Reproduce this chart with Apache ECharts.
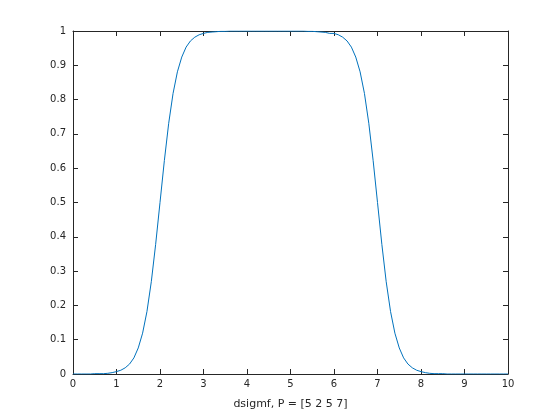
<!DOCTYPE html>
<html>
<head>
<meta charset="utf-8">
<script src="https://cdn.jsdelivr.net/npm/echarts@6/dist/echarts.min.js"></script>
<style>html,body{margin:0;padding:0;background:#fff;}#c{width:560px;height:420px;}</style>
</head>
<body>
<div id="c"></div>
<script>
var xValues = [0,0.1,0.2,0.3,0.4,0.5,0.6,0.7,0.8,0.9,1,1.1,1.2,1.3,1.4,1.5,1.6,1.7,1.8,1.9,2,2.1,2.2,2.3,2.4,2.5,2.6,2.7,2.8,2.9,3,3.1,3.2,3.3,3.4,3.5,3.6,3.7,3.8,3.9,4,4.1,4.2,4.3,4.4,4.5,4.6,4.7,4.8,4.9,5,5.1,5.2,5.3,5.4,5.5,5.6,5.7,5.8,5.9,6,6.1,6.2,6.3,6.4,6.5,6.6,6.7,6.8,6.9,7,7.1,7.2,7.3,7.4,7.5,7.6,7.7,7.8,7.9,8,8.1,8.2,8.3,8.4,8.5,8.6,8.7,8.8,8.9,9,9.1,9.2,9.3,9.4,9.5,9.6,9.7,9.8,9.9,10];
var yValues = [0.000,0.000,0.000,0.000,0.000,0.001,0.001,0.001,0.002,0.004,0.007,0.011,0.018,0.029,0.047,0.076,0.119,0.182,0.269,0.378,0.500,0.622,0.731,0.818,0.881,0.924,0.953,0.971,0.982,0.989,0.993,0.996,0.997,0.998,0.999,0.999,1.000,1.000,1.000,1.000,1.000,1.000,1.000,1.000,1.000,1.000,1.000,1.000,1.000,1.000,1.000,1.000,1.000,1.000,0.999,0.999,0.998,0.997,0.996,0.993,0.993,0.989,0.982,0.971,0.953,0.924,0.881,0.818,0.731,0.622,0.500,0.378,0.269,0.182,0.119,0.076,0.047,0.029,0.018,0.011,0.007,0.004,0.002,0.001,0.001,0.001,0.000,0.000,0.000,0.000,0.000,0.000,0.000,0.000,0.000,0.000,0.000,0.000,0.000,0.000,0.000];
var xTicks = [0,1,2,3,4,5,6,7,8,9,10];
var yTicks = [0,0.1,0.2,0.3,0.4,0.5,0.6,0.7,0.8,0.9,1];
var xLabel = 'dsigmf, P = [5 2 5 7]';

var pts = xValues.map(function(x,i){return [x, yValues[i]];});
var axisColor = '#262626';
var font = 'DejaVu Sans';
var chart = echarts.init(document.getElementById('c'), null, {renderer:'canvas'});
function fmt(v){return String(Math.round(v*10)/10);}
var baseX = {
  type:'value', min:xTicks[0], max:xTicks[xTicks.length-1], interval:1,
  axisLine:{show:true, onZero:false, lineStyle:{color:axisColor, width:1}},
  axisTick:{show:true, inside:true, length:5, lineStyle:{color:axisColor}},
  splitLine:{show:false}
};
var baseY = {
  type:'value', min:yTicks[0], max:yTicks[yTicks.length-1], interval:0.1,
  axisLine:{show:true, onZero:false, lineStyle:{color:axisColor, width:1}},
  axisTick:{show:true, inside:true, length:5, lineStyle:{color:axisColor}},
  splitLine:{show:false}
};
chart.setOption({
  animation:false,
  backgroundColor:'#ffffff',
  grid:{left:73, right:52, top:31, bottom:46, containLabel:false},
  xAxis:[
    Object.assign({}, baseX, {position:'bottom',
      name:xLabel, nameLocation:'middle', nameGap:25,
      nameTextStyle:{color:axisColor, fontFamily:font, fontSize:11},
      axisLabel:{show:true, color:axisColor, fontFamily:font, fontSize:10, margin:5, formatter:fmt}}),
    Object.assign({}, baseX, {position:'top', axisLabel:{show:false}})
  ],
  yAxis:[
    Object.assign({}, baseY, {position:'left',
      axisLabel:{show:true, color:axisColor, fontFamily:font, fontSize:10, margin:7, formatter:fmt}}),
    Object.assign({}, baseY, {position:'right', axisLabel:{show:false}})
  ],
  series:[{
    type:'line', data:pts, xAxisIndex:0, yAxisIndex:0,
    showSymbol:false, symbol:'none', smooth:false,
    lineStyle:{color:'#0072BD', width:1}
  }]
});
</script>
</body>
</html>
